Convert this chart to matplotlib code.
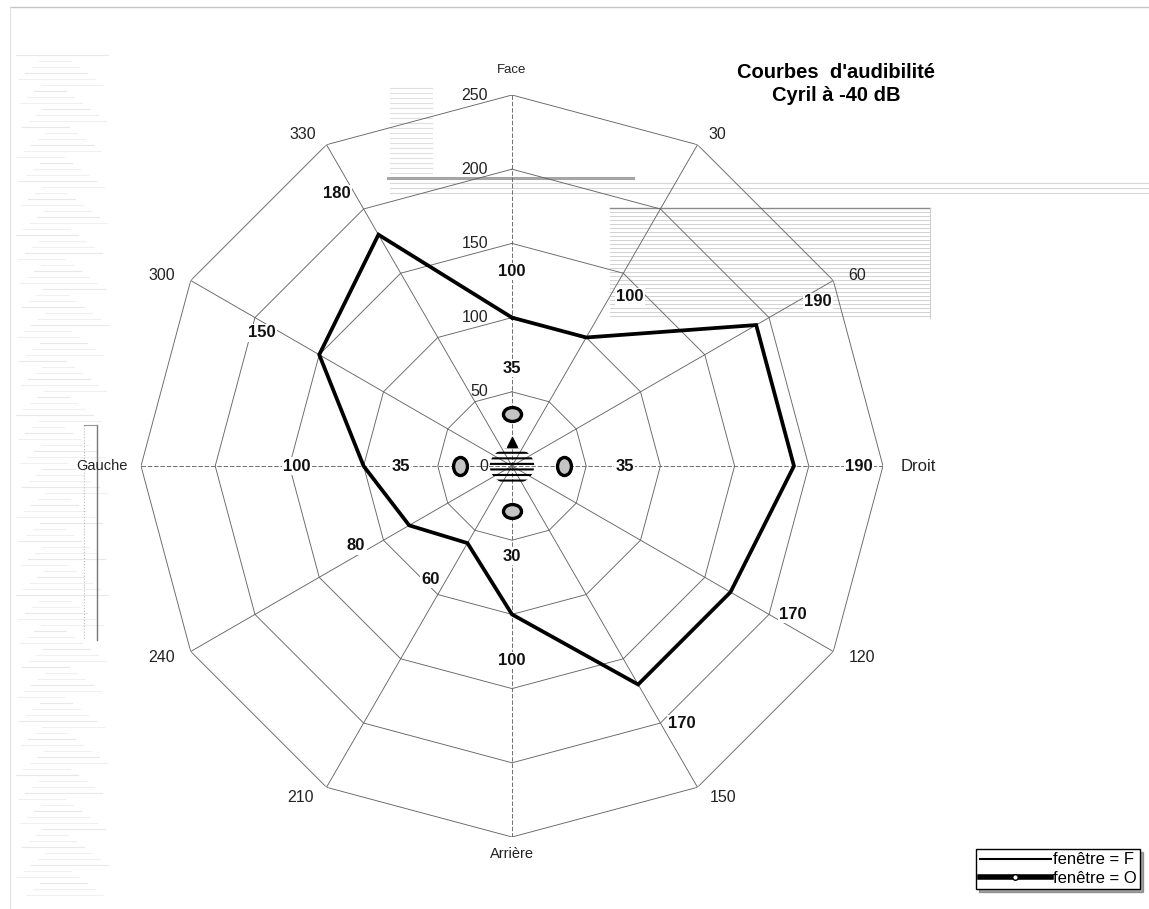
import numpy as np
import matplotlib.pyplot as plt
from matplotlib import transforms
from matplotlib.lines import Line2D
from matplotlib.patches import Ellipse
from matplotlib.path import Path

plt.rcParams['font.family'] = ['Liberation Sans', 'DejaVu Sans']
plt.rcParams['hatch.linewidth'] = 1.5

##################################################################
# Data
##################################################################
directions = ['Face', '30', '60', 'Droit', '120', '150',
              'Arrière', '210', '240', 'Gauche', '300', '330']
angles_deg = [0, 30, 60, 90, 120, 150, 180, 210, 240, 270, 300, 330]

# fenêtre = O (thick line)
fenetre_o = [100, 100, 190, 190, 170, 170, 100, 60, 80, 100, 150, 180]
# fenêtre = F (only the four points near the centre)
f_angles = [0, 90, 180, 270]
fenetre_f = [35, 35, 30, 35]

ring_values = [0, 50, 100, 150, 200, 250]
title = "Courbes  d'audibilité\nCyril à -40 dB"

# label placement (angle shift in degrees, radius shift in data units)
o_label_shift = [(0, 31), (4.8, 39), (1.8, 44), (0, 44), (-2.2, 44), (-3.4, 38),
                 (0, 31), (5.7, 34), (2.9, 38), (0, 45), (-2, 41), (-2.7, 38)]
f_label_shift = [31, 41, 31, 40]
# direction labels: pixel offsets from the outer vertex (x right, y down)
cat_offsets = [(0, -25), (20, -10), (24, -5), (35, 0), (29, 6), (26, 10),
               (0, 17), (-26, 10), (-29, 6), (-39, 0), (-29, -5), (-24, -10)]

##################################################################
# Figure
##################################################################
W, H = 1149, 909
fig = plt.figure(figsize=(W / 100, H / 100), dpi=100)
fig.patch.set_facecolor('white')

# scan leftovers in the background (pixel coordinates)
bg = fig.add_axes([0, 0, 1, 1], zorder=-1)
bg.set_xlim(0, W)
bg.set_ylim(H, 0)
bg.axis('off')
bg.plot([10, W], [7, 7], color='#c4c4c4', lw=1)
bg.plot([10, 10], [7, H], color='#e2e2e2', lw=0.8)
for i, y in enumerate(np.arange(55, 900, 6)):
    x0 = 16 + (i * 23 % 30)
    x1 = 108 - (i * 37 % 45)
    bg.plot([x0, x1], [y, y], color='#f0f0f0' if i % 3 else '#e8e8e8', lw=0.8)
bg.plot([388, 633], [178, 178], color='#a5a5a5', lw=2.2)
for y in [183, 188, 193]:
    bg.plot([390, W], [y, y], color='#d8d8d8', lw=0.8)
for y in np.arange(88, 176, 5):
    bg.plot([390, 432], [y, y], color='#e0e0e0', lw=0.8)
bg.plot([610, 930], [208, 208], color='#8a8a8a', lw=1)
for y in np.arange(212, 320, 4):
    bg.plot([610, 930], [y, y], color='#d2d2d2', lw=0.7)
bg.plot([930, 930], [208, 318], color='#cccccc', lw=0.7)
bg.plot([97, 97], [425, 640], color='#777777', lw=1)
bg.plot([84, 84], [425, 640], color='#bbbbbb', lw=0.8, ls=':')
bg.plot([84, 97], [425, 425], color='#999999', lw=0.8)

# polar radar axes
cx, cy, R = 512, 466, 371
rect = [(cx - R) / W, (H - cy - R) / H, 2 * R / W, 2 * R / H]
ax = fig.add_axes(rect, projection='polar')
ax.set_theta_zero_location('N')
ax.set_theta_direction(-1)
ax.set_ylim(0, 250)
ax.grid(False)
ax.spines['polar'].set_visible(False)
ax.set_xticks([])
ax.set_yticks([])
ax.patch.set_visible(False)

theta = np.deg2rad(angles_deg + [angles_deg[0]])
rmax = ring_values[-1]
for r in ring_values[1:]:
    ax.plot(theta, [r] * len(theta), color='#666666', lw=0.65, zorder=1)
for a in angles_deg:
    ls = (0, (5, 2)) if a % 90 == 0 else '-'
    ax.plot([np.deg2rad(a)] * 2, [0, rmax], color='#666666', lw=0.65, ls=ls, zorder=1)

# radial scale labels on the Face axis
lab_tr = transforms.offset_copy(ax.transData, fig=fig, x=-24, y=0, units='dots')
for r in ring_values:
    ax.text(0, r, str(r), transform=lab_tr, ha='right', va='center',
            fontsize=11.5, color='#222222', zorder=2)

# direction labels
cat_sizes = {'Face': 9.5, 'Gauche': 10.5, 'Droit': 12, 'Arrière': 10.5}
for name, a, (dx, dy) in zip(directions, angles_deg, cat_offsets):
    tr = transforms.offset_copy(ax.transData, fig=fig, x=dx, y=-dy, units='dots')
    ax.text(np.deg2rad(a), rmax, name, transform=tr, ha='center', va='center',
            fontsize=cat_sizes.get(name, 11.5), color='#222222')

# fenêtre = O
ax.plot(theta, fenetre_o + [fenetre_o[0]], color='black', lw=2.7,
        solid_joinstyle='miter', zorder=3)
for a, v, (dt, dr) in zip(angles_deg, fenetre_o, o_label_shift):
    ax.text(np.deg2rad(a + dt), v + dr, str(v), ha='center', va='center',
            fontsize=12, fontweight='bold', color='#111111', zorder=5,
            bbox=dict(facecolor='white', edgecolor='none', pad=1))

# fenêtre = F : oval markers
for a, v, dr in zip(f_angles, fenetre_f, f_label_shift):
    oval = Path.unit_circle().transformed(
        transforms.Affine2D().scale(1.3, 1.0).rotate_deg(-a))
    ax.plot(np.deg2rad(a), v, ls='none', marker=oval, ms=13,
            mfc='#c4c4c4', mec='black', mew=2.4, zorder=4)
    ax.text(np.deg2rad(a), v + dr, str(v), ha='center', va='center',
            fontsize=12, fontweight='bold', color='#111111', zorder=5,
            bbox=dict(facecolor='white', edgecolor='none', pad=1))

# head drawn at the centre
hx = fig.add_axes(rect, zorder=1)
hx.set_xlim(-rmax, rmax)
hx.set_ylim(-rmax, rmax)
hx.axis('off')
hx.add_patch(Ellipse((0, 0), 30, 25, fill=False, hatch='---', lw=0,
                     edgecolor='black'))
hx.plot(0, 16.5, marker='^', color='black', ms=7)

# title
fig.text(836 / W, 1 - 84 / H, title, ha='center', va='center',
         fontsize=14.5, fontweight='bold', linespacing=1.3)

# legend
handles = [Line2D([], [], color='black', lw=1.5),
           Line2D([], [], color='black', lw=4, marker='o', ms=4,
                  mfc='white', mec='black', mew=1)]
fig.legend(handles, ['fenêtre = F', 'fenêtre = O'], loc='lower right',
           bbox_to_anchor=(1140 / W, 1 - 889 / H), frameon=True, fancybox=False,
           edgecolor='black', framealpha=1, shadow=True, fontsize=12,
           handlelength=4.3, handletextpad=0.1, borderpad=0.2,
           labelspacing=0.2, borderaxespad=0)

fig.savefig('out.png', dpi=100)
